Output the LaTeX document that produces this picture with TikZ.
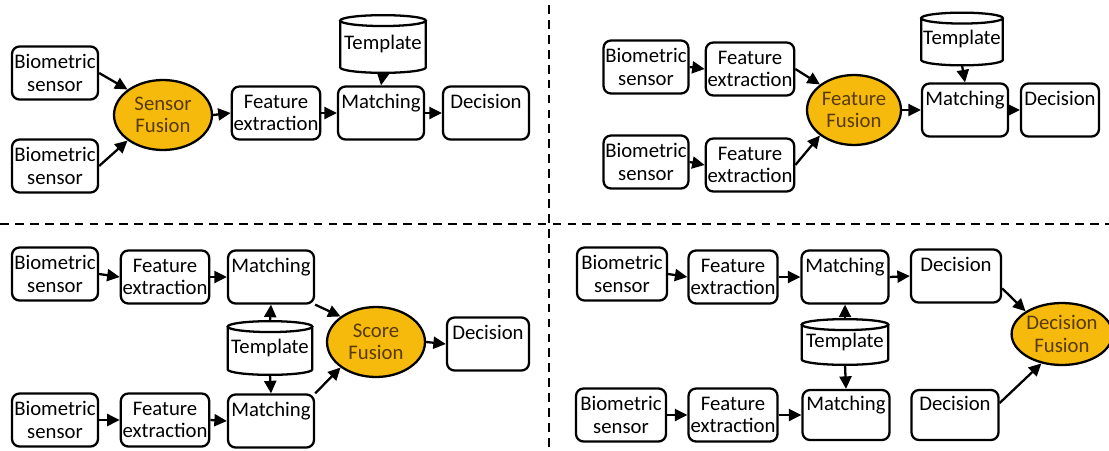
\documentclass[tikz,border=0pt]{standalone}
\usepackage{fontspec}
\setmainfont{Carlito}
\usetikzlibrary{positioning,shapes.geometric,arrows.meta,calc}
\definecolor{fusiongold}{RGB}{245,186,12}
\definecolor{fusiontext}{RGB}{88,58,6}
\tikzset{
    Block/.style={draw, line width=1.3pt, rounded corners=0.15cm, fill=white, minimum width=1.72cm, minimum height=1.06cm, inner sep=1pt, align=center},
    FusionBlob/.style={ellipse, draw, line width=1.3pt, fill=fusiongold, text=fusiontext, minimum width=1.96cm, minimum height=1.4cm, inner sep=0pt, align=center},
    Store/.style={rectangle, minimum width=1.7cm, minimum height=1.12cm, inner sep=0pt},
    StoreLine/.style={line width=1.3pt},
    Flow/.style={line width=1.3pt, -{Triangle[length=2.5mm,width=2.4mm]}},
    Separator/.style={line width=0.8pt, dash pattern=on 5pt off 3.5pt}
    }
% drum outline around a Store node
\newcommand{\DrawStore}[1]{%
  \draw[StoreLine] let \p1=(#1.north west), \p2=(#1.south east) in
    ({(\x1+\x2)/2},{\y1-3.1pt}) ellipse [x radius={(\x2-\x1)/2}, y radius=3.1pt]
    (\x1,{\y1-3.1pt}) -- (\x1,{\y2+3.1pt})
    arc[start angle=180, end angle=360, x radius={(\x2-\x1)/2}, y radius=3.1pt]
    -- (\x2,{\y1-3.1pt});
}

\begin{document}
\begin{tikzpicture}[x=0.02cm, y=-0.02cm, font={\fontsize{11.8}{12.8}\selectfont}]
\useasboundingbox (0,0) rectangle (1109,450);

% sensor level
\node[Block] (SensA) at (55,73) {Biometric\\sensor};
\node[Block] (SensB) at (55,166) {Biometric\\sensor};
\node[FusionBlob] (SensFus) at (163,115) {Sensor\\Fusion};
\node[Block] (FeatA) at (276,113) {Feature\\extraction};
\node[Block] (MatchA) at (381,113) {Matching\\~};
\node[Block] (DecA) at (486,113) {Decision\\~};
\node[Store, minimum height=1.14cm] (TplA) at (383,44) {Template};
\DrawStore{TplA}

\draw[Flow] (SensA.east) -- (SensFus.north west);
\draw[Flow] (SensB.east) -- (SensFus.south west);
\draw[Flow] (SensFus.east) -- (FeatA.west);
\draw[Flow] (FeatA.east) -- (MatchA.west);
\draw[Flow] (MatchA.east) -- (DecA.west);
\draw[Flow] (TplA.south) -- (MatchA.north);

% feature level
\node[Block, minimum width=1.6cm] (SensC) at (646,67) {Biometric\\sensor};
\node[Block] (FeatC) at (750,69) {Feature\\extraction};
\node[Block, minimum width=1.6cm] (SensD) at (646,162) {Biometric\\sensor};
\node[Block] (FeatD) at (750,165) {Feature\\extraction};
\node[FusionBlob, minimum width=1.88cm] (FeatFus) at (854,110) {Feature\\Fusion};
\node[Block] (MatchB) at (965,110) {Matching\\~};
\node[Block, minimum width=1.56cm] (DecB) at (1060,110) {Decision\\~};
\node[Store, minimum width=1.62cm, minimum height=1.04cm] (TplB) at (962,39) {Template};
\DrawStore{TplB}

\draw[Flow] (SensC.east) -- (FeatC.west);
\draw[Flow] (SensD.east) -- (FeatD.west);
\draw[Flow] (FeatC.east) -- (FeatFus.north west);
\draw[Flow] (FeatD.east) -- (FeatFus.south west);
\draw[Flow] (FeatFus.east) -- (MatchB.west);
\draw[Flow] (TplB.south) -- (MatchB.north);
\draw[Flow] (MatchB.east) -- (DecB.west);

% score level
\node[Block] (SensE) at (55,274) {Biometric\\sensor};
\node[Block] (FeatE) at (165,277) {Feature\\extraction};
\node[Block] (MatchE) at (271,277) {Matching\\~};
\node[Store, minimum width=1.68cm, minimum height=1.06cm] (TplE) at (270,348) {Template};
\DrawStore{TplE}
\node[Block] (SensF) at (55,420) {Biometric\\sensor};
\node[Block] (FeatF) at (165,420) {Feature\\extraction};
\node[Block] (MatchF) at (271,421) {Matching\\~};
\node[FusionBlob] (ScoreFus) at (376,342) {Score\\Fusion};
\node[Block, minimum width=1.64cm] (DecE) at (488,344) {Decision\\~};

\draw[Flow] (SensE.east) -- (FeatE.west);
\draw[Flow] (FeatE.east) -- (MatchE.west);
\draw[Flow] (SensF.east) -- (FeatF.west);
\draw[Flow] (FeatF.east) -- (MatchF.west);
\draw[Flow] (TplE.north) -- (MatchE.south);
\draw[Flow] (TplE.south) -- (MatchF.north);
\draw[Flow] (MatchE.south east) -- (ScoreFus.north west);
\draw[Flow] (MatchF.north east) -- (ScoreFus.south west);
\draw[Flow] (ScoreFus.east) -- (DecE.west);

% decision level
\node[Block, minimum width=1.8cm] (SensG) at (622,274) {Biometric\\sensor};
\node[Block, minimum width=1.78cm] (FeatG) at (733,277) {Feature\\extraction};
\node[Block, minimum width=1.74cm] (MatchG) at (845,277) {Matching\\~};
\node[Block, minimum width=1.8cm] (DecG) at (956,276) {Decision\\~};
\node[Store, minimum width=1.72cm, minimum height=0.9cm] (TplG) at (845,342) {Template};
\DrawStore{TplG}
\node[Block, minimum width=1.8cm] (SensH) at (621,415) {Biometric\\sensor};
\node[Block, minimum width=1.78cm] (FeatH) at (733,415) {Feature\\extraction};
\node[Block, minimum width=1.74cm, minimum height=1cm] (MatchH) at (846,415) {Matching\\~};
\node[Block, minimum width=1.74cm, minimum height=1cm] (DecH) at (955,415) {Decision\\~};
\node[FusionBlob, minimum width=1.88cm, minimum height=1.24cm] (DecFus) at (1062,334) {Decision\\Fusion};

\draw[Flow] (SensG.east) -- (FeatG.west);
\draw[Flow] (FeatG.east) -- (MatchG.west);
\draw[Flow] (MatchG.east) -- (DecG.west);
\draw[Flow] (SensH.east) -- (FeatH.west);
\draw[Flow] (FeatH.east) -- (MatchH.west);
\draw[Flow] (TplG.north) -- (MatchG.south);
\draw[Flow] (TplG.south) -- (MatchH.north);
\draw[Flow] (DecG.-15) -- (DecFus.north west);
\draw[Flow] (DecH.15) -- (DecFus.-125);

% quadrant borders
\draw[Separator] (549,5) -- (549,447);
\draw[Separator] (0,224) -- (1109,224);

\end{tikzpicture}
\end{document}
